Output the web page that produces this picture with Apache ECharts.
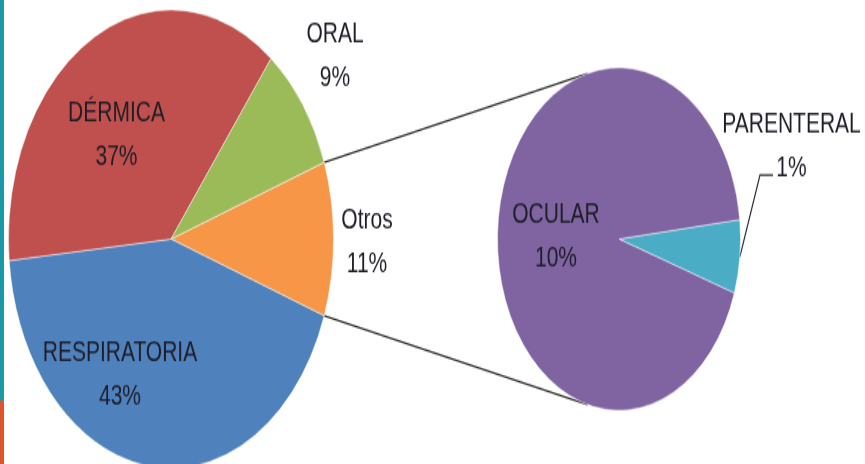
<!DOCTYPE html>
<html>
<head>
<meta charset="utf-8">
<script src="https://cdn.jsdelivr.net/npm/echarts@6/dist/echarts.min.js"></script>
<style>
  html, body { margin: 0; padding: 0; background: #fff; }
  body { width: 865px; height: 464px; overflow: hidden; }
  /* the reference picture is stretched vertically, so the whole chart is too */
  #main { width: 865px; height: 329px; transform: scaleY(1.4103); transform-origin: 0 0; }
</style>
</head>
<body>
<div id="main"></div>
<script>
  // ---- data ----
  const mainNames = ['Otros', 'RESPIRATORIA', 'DÉRMICA', 'ORAL']
  const mainValues = [10.85, 43, 37, 9]
  const subNames = ['PARENTERAL', 'OCULAR']
  const subValues = [0.75, 10.1]

  const mainColors = ['#f79646', '#4f81bd', '#c0504d', '#9bbb59']
  const subColors = ['#4bacc6', '#8064a2']

  // pie geometry (unscaled chart pixels)
  const mainCenter = [171, 169.5], mainRadius = 162.5
  const subCenter = [619, 169.5], subRadius = 121.5

  // label offsets from pie center
  const labelOffset = {
    'DÉRMICA': [-54.5, -74],
    'RESPIRATORIA': [-51, 96],
    'ORAL': [164, -129.5],
    'Otros': [196, 1.8],
    'OCULAR': [-63, -1.8],
    'PARENTERAL': [172.5, -66]
  }

  const total = mainValues.reduce((a, b) => a + b, 0)
  const otrosAngle = mainValues[0] / total * 360
  const subTotal = subValues.reduce((a, b) => a + b, 0)

  function rim (c, r, deg) {
    const a = deg * Math.PI / 180
    return [c[0] + r * Math.cos(a), c[1] - r * Math.sin(a)]
  }

  // connector lines between the "Otros" slice and the second pie
  const p1 = rim(mainCenter, mainRadius, otrosAngle / 2)
  const p2 = rim(subCenter, subRadius, 105)
  const p3 = rim(mainCenter, mainRadius, -otrosAngle / 2)
  const p4 = rim(subCenter, subRadius, -105)

  const labelStyle = {
    fontFamily: 'Liberation Sans',
    fontSize: 21,
    lineHeight: 31,
    color: '#1e1e28',
    overflow: 'none',
    formatter: p => p.name + '\n' + Math.round(p.value) + '%'
  }

  let chart = echarts.init(document.getElementById('main'))
  chart.setOption({
    animation: false,
    backgroundColor: '#fff',
    graphic: [
      // side stripes
      { type: 'rect', shape: { x: 0, y: 0, width: 4, height: 284 }, style: { fill: '#1a98a6' } },
      { type: 'rect', shape: { x: 0, y: 284, width: 4, height: 46 }, style: { fill: '#e0542c' } },
      { type: 'line', z: 1, shape: { x1: p1[0], y1: p1[1], x2: p2[0], y2: p2[1] }, style: { stroke: '#2b2b2b', lineWidth: 1.3 } },
      { type: 'line', z: 1, shape: { x1: p3[0], y1: p3[1], x2: p4[0], y2: p4[1] }, style: { stroke: '#2b2b2b', lineWidth: 1.3 } }
    ],
    series: [
      {
        type: 'pie',
        center: mainCenter,
        radius: mainRadius,
        startAngle: otrosAngle / 2,
        clockwise: true,
        itemStyle: { borderColor: 'rgba(255,255,255,0.6)', borderWidth: 0.8 },
        label: Object.assign({ position: 'inside' }, labelStyle),
        labelLine: { show: false },
        labelLayout: p => {
          const o = labelOffset[mainNames[p.dataIndex]]
          return { x: mainCenter[0] + o[0], y: mainCenter[1] + o[1], align: 'center', verticalAlign: 'middle' }
        },
        data: mainNames.map((n, i) => ({ name: n, value: mainValues[i], itemStyle: { color: mainColors[i] } }))
      },
      {
        type: 'pie',
        center: subCenter,
        radius: subRadius,
        startAngle: 6.5,
        clockwise: true,
        itemStyle: { borderColor: 'rgba(255,255,255,0.6)', borderWidth: 0.8 },
        label: Object.assign({ position: 'outside' }, labelStyle),
        labelLine: { show: true, length: 10, length2: 10, lineStyle: { color: '#2b2b2b', width: 1.2 } },
        labelLayout: p => {
          const name = subNames[p.dataIndex]
          const o = labelOffset[name]
          const res = { x: subCenter[0] + o[0], y: subCenter[1] + o[1], align: 'center', verticalAlign: 'middle' }
          if (name === 'PARENTERAL') {
            const mid = 6.5 - subValues[0] / subTotal * 180
            res.labelLinePoints = [
              rim(subCenter, subRadius, mid),
              [subCenter[0] + 141, subCenter[1] - 45.4],
              [subCenter[0] + 154, subCenter[1] - 45.4]
            ]
          }
          return res
        },
        data: subNames.map((n, i) => ({
          name: n,
          value: subValues[i],
          itemStyle: { color: subColors[i] },
          label: { position: n === 'OCULAR' ? 'inside' : 'outside' },
          labelLine: { show: n === 'PARENTERAL' }
        }))
      }
    ]
  })
</script>
</body>
</html>
